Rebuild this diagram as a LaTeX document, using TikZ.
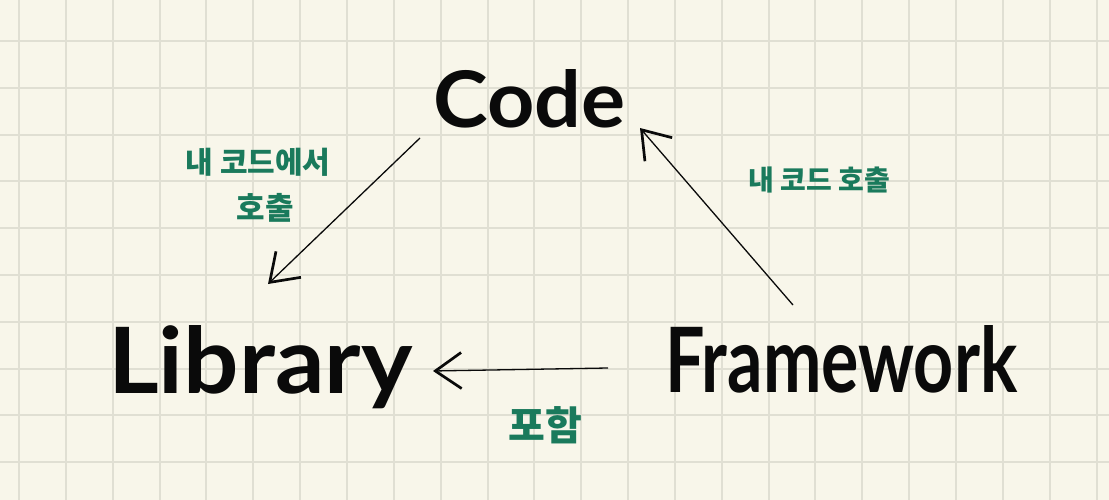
\documentclass[tikz,border=0pt]{standalone}
\usepackage{fontspec}
\usepackage{graphicx}
\usetikzlibrary{arrows.meta}
\newfontfamily\handfont{Lato}
\newfontfamily\krfont{Noto Sans CJK KR}
\definecolor{paper}{HTML}{F8F6EA}
\definecolor{gridc}{HTML}{E0DFD3}
\definecolor{inkgreen}{HTML}{1A7A5C}
\definecolor{ink}{HTML}{0A0A0A}
\tikzset{
  gridline/.style={draw=gridc, line width=2pt},
  word/.style={inner sep=0pt, anchor=base west, text=ink},
  note/.style={inner sep=0pt, text=inkgreen},
  link/.style={draw=ink, line width=1.3pt,
    -{Straight Barb[length=26pt, width=36pt, line width=2.7pt]}},
}
\begin{document}
\begin{tikzpicture}[x=1pt,y=-1pt]
\fill[paper] (0,0) rectangle (1109,500);
\useasboundingbox (0,0) rectangle (1109,500);
\foreach \i in {0,...,23} \draw[gridline] ({19+46.85*\i},0) -- ({19+46.85*\i},500);
\foreach \j in {0,...,9} \draw[gridline] (0,{41+46.8*\j}) -- (1109,{41+46.8*\j});

\node[word] (code) at (433,128) {\resizebox{192pt}{58pt}{\handfont\bfseries Code}};
\node[word] (library) at (108,393) {\resizebox{304pt}{68pt}{\handfont\bfseries Library}};
\node[word] (framework) at (665,392) {\resizebox{352pt}{67pt}{\handfont\bfseries Framework}};

\node[note] (l1) at (258,162) {\krfont\bfseries\fontsize{30}{32}\selectfont 내 코드에서};
\node[note] (l2) at (265,208) {\krfont\bfseries\fontsize{31}{33}\selectfont 호출};
\node[note] (l3) at (819,180) {\krfont\bfseries\fontsize{28}{30}\selectfont 내 코드 호출};
\node[note] (l4) at (545,425) {\krfont\bfseries\fontsize{40}{42}\selectfont 포함};

\coordinate (c1) at (420,138);
\coordinate (c2) at (268,284);
\coordinate (f1) at (793,305);
\coordinate (f2) at (640,128);
\coordinate (f3) at (608,368);
\coordinate (l0) at (433,371);

\draw[link] (c1) -- (c2);
\draw[link] (f1) -- (f2);
\draw[link] (f3) -- (l0);
\end{tikzpicture}
\end{document}
